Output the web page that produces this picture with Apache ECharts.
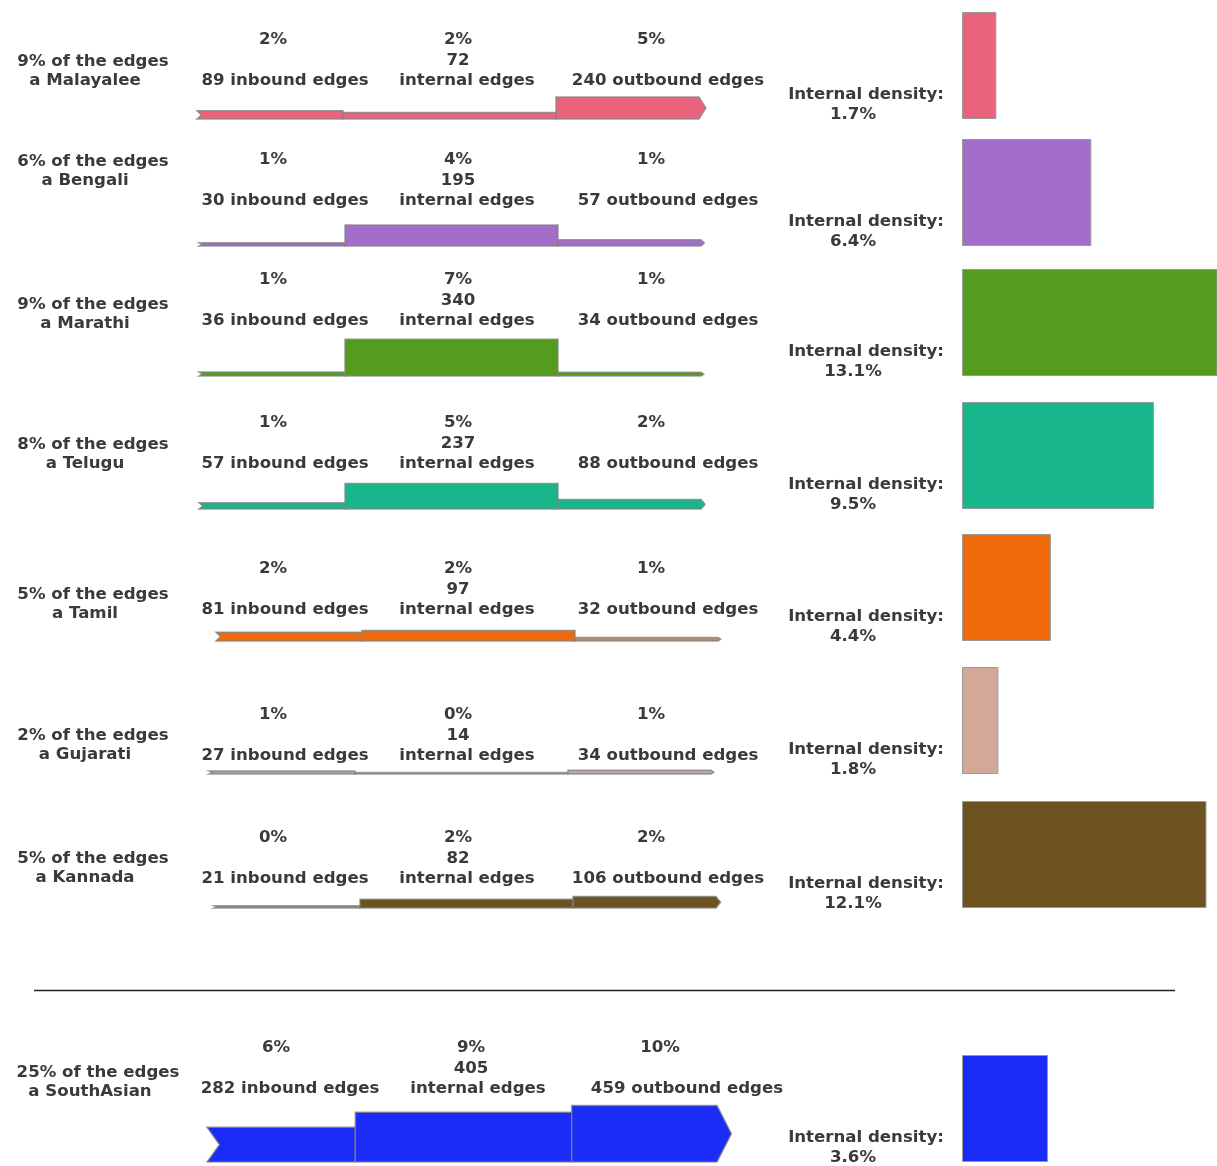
<!DOCTYPE html>
<html>
<head>
<meta charset="utf-8">
<script src="https://cdn.jsdelivr.net/npm/echarts@6/dist/echarts.min.js"></script>
<style>html,body{margin:0;padding:0;background:#fff;}#chart{width:1217px;height:1166px;}</style>
</head>
<body>
<div id="chart"></div>
<script>
// ---------- DATA ----------
const groups = ['Malayalee', 'Bengali', 'Marathi', 'Telugu', 'Tamil', 'Gujarati', 'Kannada', 'SouthAsian'];
const edgeShare = [9, 6, 9, 8, 5, 2, 5, 25];
const inboundEdges = [89, 30, 36, 57, 81, 27, 21, 282];
const internalEdges = [72, 195, 340, 237, 97, 14, 82, 405];
const outboundEdges = [240, 57, 34, 88, 32, 34, 106, 459];
const inboundPct = [2, 1, 1, 1, 2, 1, 0, 6];
const internalPct = [2, 4, 7, 5, 2, 0, 2, 9];
const outboundPct = [5, 1, 1, 2, 1, 1, 2, 10];
const internalDensity = [1.7, 6.4, 13.1, 9.5, 4.4, 1.8, 12.1, 3.6];

// ---------- STYLE / LAYOUT ----------
const groupColors = ['#e8637b', '#a36ec9', '#559b1e', '#18b68a', '#ee6a0a', '#d2a898', '#6d5222', '#1a2cf5'];
const segColors = [
  ['#e8637b', '#e8637b', '#e8637b'],
  ['#a36ec9', '#a36ec9', '#a36ec9'],
  ['#559b1e', '#559b1e', '#559b1e'],
  ['#18b68a', '#18b68a', '#18b68a'],
  ['#ee6a0a', '#ee6a0a', '#b98b6e'],
  ['#aea3a0', '#a6a6a6', '#bca59f'],
  ['#8c8c8c', '#6d5222', '#6d5222'],
  ['#1a2cf5', '#1a2cf5', '#1a2cf5']
];
const baselineY = [119, 246, 376, 509, 641, 774, 908, 1162];
const labelY = [81, 201, 321, 464, 610, 756, 879, 1089];
const leftLabelY = [81, 181, 324, 464, 614, 755, 878, 1092];
const flowLeft = [197, 199, 199, 199, 216, 209, 214, 207];
const flowWidth = [502, 502, 502, 502, 502, 502, 502, 510];
const flowGridH = 140;
const flowYMax = [1296, 1296, 1296, 1296, 1296, 1296, 1296, 1138];
const segBounds = [0, 146, 359, 502];
const densityLeft = 962, densityWidth = 255, densityH = 107;
const densityXMax = [12.62, 12.62, 12.62, 12.62, 12.62, 12.62, 12.62, 10.67];
const pctX = [273, 458, 651];
const labelX = [285, 467, 668];
const pctXSA = [276, 471, 660];
const labelXSA = [290, 478, 687];

const FONT = 'bold 16.6px "DejaVu Sans", Verdana, sans-serif';
const TXT = '#3a3a3a';

const grids = [], xAxes = [], yAxes = [], series = [], graphics = [];

function txt(x, y, s, align) {
  return { type: 'text', x: x, y: y, style: { text: s, font: FONT, fill: TXT, align: align || 'center', verticalAlign: 'middle' }, silent: true };
}

groups.forEach(function (g, i) {
  const isSA = i === groups.length - 1;
  grids.push({ left: flowLeft[i], top: baselineY[i] - flowGridH, width: flowWidth[i], height: flowGridH, containLabel: false });
  xAxes.push({ gridIndex: grids.length - 1, type: 'value', min: 0, max: 502, show: false });
  yAxes.push({ gridIndex: grids.length - 1, type: 'value', min: 0, max: flowYMax[i], show: false });
  const fIdx = grids.length - 1;
  const counts = [inboundEdges[i], internalEdges[i], outboundEdges[i]];
  const pcts = [inboundPct[i], internalPct[i], outboundPct[i]];
  const kinds = ['inbound edges', 'internal edges', 'outbound edges'];
  series.push({
    type: 'custom',
    xAxisIndex: fIdx, yAxisIndex: fIdx,
    clip: false,
    data: counts.map(function (c, k) { return [k, c]; }),
    renderItem: function (params, api) {
      const k = api.value(0), c = api.value(1);
      const x0 = api.coord([segBounds[k], 0])[0];
      const x1 = api.coord([segBounds[k + 1], 0])[0];
      const base = api.coord([0, 0])[1];
      const top = api.coord([0, c])[1];
      const h = base - top;
      const mid = (base + top) / 2;
      let pts;
      if (k === 0) {
        const d = 0.3 * h + 2;
        pts = [[x0, top], [x1, top], [x1, base], [x0, base], [x0 + d, mid]];
      } else if (k === 2) {
        const d = 0.22 * h + 2;
        pts = [[x0, top], [x1, top], [x1 + d, mid], [x1, base], [x0, base]];
      } else {
        pts = [[x0, top], [x1, top], [x1, base], [x0, base]];
      }
      const px = isSA ? pctXSA : pctX, lx = isSA ? labelXSA : labelX;
      const children = [
        { type: 'polygon', shape: { points: pts }, style: { fill: segColors[i][k], stroke: 'rgba(130,130,130,0.75)', lineWidth: 1.5 } },
        txt(px[k], labelY[i] - 41, pcts[k] + '%'),
        txt(lx[k], labelY[i], k === 1 ? kinds[k] : c + ' ' + kinds[k])
      ];
      if (k === 1) children.push(txt(px[k], labelY[i] - 20, String(c)));
      return { type: 'group', children: children };
    }
  });

  grids.push({ left: densityLeft, top: baselineY[i] - densityH, width: densityWidth, height: densityH, containLabel: false });
  xAxes.push({ gridIndex: grids.length - 1, type: 'value', min: 0, max: densityXMax[i], show: false });
  yAxes.push({ gridIndex: grids.length - 1, type: 'category', data: [g], show: false });
  series.push({
    type: 'bar',
    xAxisIndex: grids.length - 1, yAxisIndex: grids.length - 1,
    barWidth: '100%',
    data: [internalDensity[i]],
    itemStyle: { color: groupColors[i], borderColor: '#9a9a9a', borderWidth: 1 },
    silent: true, animation: false
  });

  const firstCx = isSA ? 98 : 93;
  graphics.push(txt(firstCx, leftLabelY[i] - 19, edgeShare[i] + '% of the edges'));
  graphics.push(txt(firstCx - 8, leftLabelY[i], 'a ' + g));
  graphics.push(txt(866, baselineY[i] - 24, 'Internal density:'));
  graphics.push(txt(853, baselineY[i] - 4, internalDensity[i] + '%'));
});

graphics.push({ type: 'line', shape: { x1: 34, y1: 990.5, x2: 1175, y2: 990.5 }, style: { stroke: '#222', lineWidth: 1.5 }, silent: true });

const chart = echarts.init(document.getElementById('chart'), null, { renderer: 'canvas' });
chart.setOption({
  animation: false,
  backgroundColor: '#ffffff',
  grid: grids,
  xAxis: xAxes,
  yAxis: yAxes,
  series: series,
  graphic: { elements: graphics }
});
</script>
</body>
</html>
